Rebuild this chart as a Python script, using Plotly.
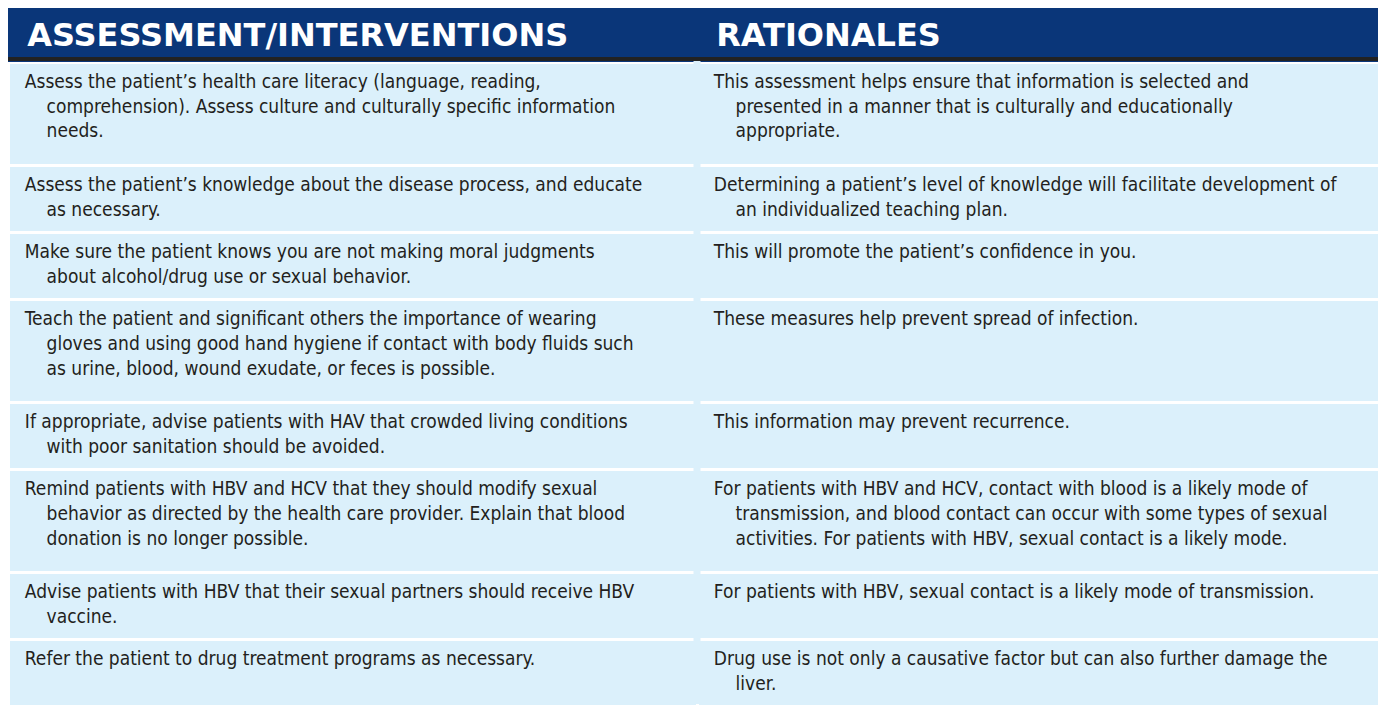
import plotly.graph_objects as go

header_labels = ["ASSESSMENT/INTERVENTIONS", "RATIONALES"]

interventions = [
    ["Assess the patient\u2019s health care literacy (language, reading,",
     "comprehension). Assess culture and culturally specific information",
     "needs."],
    ["Assess the patient\u2019s knowledge about the disease process, and educate",
     "as necessary."],
    ["Make sure the patient knows you are not making moral judgments",
     "about alcohol/drug use or sexual behavior."],
    ["Teach the patient and significant others the importance of wearing",
     "gloves and using good hand hygiene if contact with body fluids such",
     "as urine, blood, wound exudate, or feces is possible."],
    ["If appropriate, advise patients with HAV that crowded living conditions",
     "with poor sanitation should be avoided."],
    ["Remind patients with HBV and HCV that they should modify sexual",
     "behavior as directed by the health care provider. Explain that blood",
     "donation is no longer possible."],
    ["Advise patients with HBV that their sexual partners should receive HBV",
     "vaccine."],
    ["Refer the patient to drug treatment programs as necessary."],
]

rationales = [
    ["This assessment helps ensure that information is selected and",
     "presented in a manner that is culturally and educationally",
     "appropriate."],
    ["Determining a patient\u2019s level of knowledge will facilitate development of",
     "an individualized teaching plan."],
    ["This will promote the patient\u2019s confidence in you."],
    ["These measures help prevent spread of infection."],
    ["This information may prevent recurrence."],
    ["For patients with HBV and HCV, contact with blood is a likely mode of",
     "transmission, and blood contact can occur with some types of sexual",
     "activities. For patients with HBV, sexual contact is a likely mode."],
    ["For patients with HBV, sexual contact is a likely mode of transmission."],
    ["Drug use is not only a causative factor but can also further damage the",
     "liver."],
]

LEAD = "\u00a0\u2009"
INDENT = "\u00a0" * 4
SPACER = "<sup>\u00a0</sup>"


def fmt(lines, n):
    out = [LEAD + lines[0]] + [LEAD + INDENT + l for l in lines[1:]]
    while len(out) < n:
        out.append("\u00a0")
    if n >= 3:
        out.append(SPACER)
    return "<br>".join(out)


col1, col2 = [], []
for a, b in zip(interventions, rationales):
    n = max(2, len(a), len(b))
    col1.append(fmt(a, n))
    col2.append(fmt(b, n))

NAVY = "#0a3679"
BODY = "#dbf0fb"
HEADER_H = 53
COLW = [689, 687]
# the page body adds an 8px margin, so the figure is sized to fit the window
W, H = 1378, 699
M_R = 2

header_vals = ["<b>\u00a0" + h + "</b>" for h in header_labels]

fig = go.Figure(go.Table(
    columnwidth=COLW,
    header=dict(
        values=header_vals,
        fill_color=NAVY,
        line=dict(color=NAVY, width=0),
        font=dict(family="DejaVu Sans", size=32, color="white"),
        align="left",
        height=HEADER_H,
    ),
    cells=dict(
        values=[col1, col2],
        fill_color=BODY,
        line=dict(color="white", width=3),
        font=dict(family="Liberation Sans Narrow, Arial Narrow, DejaVu Sans Condensed, sans-serif",
                  size=19, color="#231f20"),
        align="left",
        height=67,
    ),
))

# dark rule under the header
fig.add_shape(type="rect", xref="paper", yref="paper",
              x0=0, x1=1, y0=1 - HEADER_H / H, y1=1 - (HEADER_H - 4) / H,
              fillcolor="#222222", line=dict(width=0), layer="above")

# hide the vertical cell border between the two columns
xb = COLW[0] / sum(COLW)
half = 3.5 / (W - M_R)
fig.add_shape(type="rect", xref="paper", yref="paper",
              x0=xb - half, x1=xb + half, y0=3 / H, y1=1 - HEADER_H / H,
              fillcolor=BODY, line=dict(width=0), layer="above")

fig.update_layout(
    width=W, height=H,
    margin=dict(l=0, r=M_R, t=0, b=0),
    paper_bgcolor="white",
)

fig.write_html("out.html")
